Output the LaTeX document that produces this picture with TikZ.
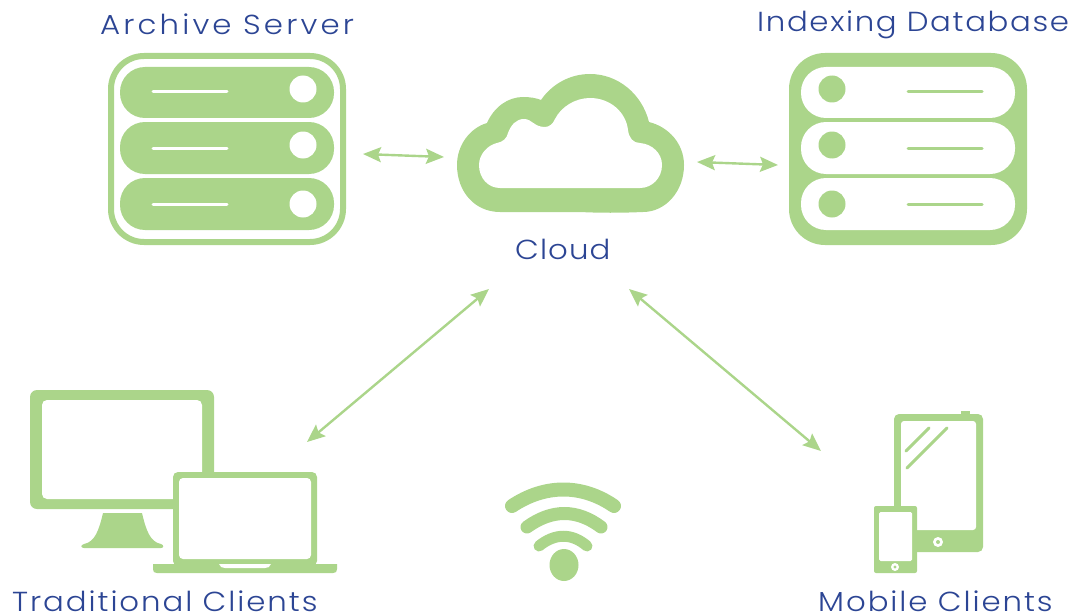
\documentclass[tikz,border=0pt]{standalone}
\usepackage{fontspec}
\setmainfont[LetterSpace=7,FakeStretch=1.12]{Poppins Light}
\usetikzlibrary{arrows.meta}
\definecolor{leaf}{HTML}{ABD58A}
\definecolor{ink}{HTML}{2C4594}
\tikzset{
  x=1pt,y=-1pt,
  lbl/.style={anchor=base west,inner sep=0pt,text=ink,font=\fontsize{27.5}{30}\selectfont},
  link/.style={draw=leaf,line width=2.4pt,{Stealth[length=18pt,width=15pt,inset=3pt]}-{Stealth[length=18pt,width=15pt,inset=3pt]}},
  wave/.style={draw=leaf,line cap=round}
}
\begin{document}
\begin{tikzpicture}
\useasboundingbox (0,0) rectangle (1075,615);
% Archive server
\draw[leaf,line width=6pt,rounded corners=33pt] (111,56) rectangle (343,242);
\foreach \a/\b/\c/\l in {67/118/89/92,122/174/145/148,178/230/204/204}{
  \fill[leaf,rounded corners=25pt] (120,\a) rectangle (334,\b);
  \fill[white] (303,\c) circle (13.5);
  \draw[white,line width=3pt,line cap=round] (153,\l) -- (227,\l);
}
% Indexing database
\fill[leaf,rounded corners=36pt] (789,53) rectangle (1027,245);
\foreach \a/\b/\c/\l in {67/118/89/92,122/174/145/148,178/230/204/204}{
  \fill[white,rounded corners=25pt] (801,\a) rectangle (1015,\b);
  \fill[leaf] (832,\c) circle (13.5);
  \draw[leaf,line width=3pt,line cap=round] (908,\l) -- (982,\l);
}
% Cloud
\fill[leaf] (500,212) .. controls (475,212) and (457,192) .. (457,165)
  .. controls (457,145) and (470,128) .. (487,123)
  .. controls (494,107) and (508,97) .. (523,97)
  .. controls (530,97) and (536,98) .. (541,100)
  .. controls (552,84) and (570,74) .. (590,74)
  .. controls (618,74) and (642,94) .. (649,122)
  .. controls (669,127) and (684,144) .. (684,165)
  .. controls (684,192) and (665,212) .. (643,212)
  .. controls (620,213) and (600,213) .. (580,212) -- cycle;
\fill[white] (500,188) .. controls (488,188) and (479,178) .. (479,165)
  .. controls (479,154) and (488,145) .. (497,143)
  .. controls (503,142) and (507,138) .. (508,133)
  .. controls (511,125) and (516,119) .. (524,119)
  .. controls (532,119) and (534,127) .. (545,127)
  .. controls (549,127) and (553,124) .. (555,119)
  .. controls (561,107) and (575,98) .. (590,98)
  .. controls (610,98) and (626,112) .. (628,130)
  .. controls (629,138) and (633,143) .. (640,143)
  .. controls (652,144) and (662,153) .. (662,165)
  .. controls (662,178) and (652,188) .. (640,188) -- cycle;
% Monitor
\fill[leaf,rounded corners=7pt] (30,390) rectangle (214,509);
\fill[white,rounded corners=5pt] (42,400) rectangle (202,499);
\fill[leaf] (103,513) -- (142,513) .. controls (146,530) and (150,542) .. (161,544)
  .. controls (164,545) and (164,548) .. (161,548) -- (84,548)
  .. controls (81,548) and (80,545) .. (84,544)
  .. controls (95,542) and (99,530) .. (103,513) -- cycle;
% Laptop
\fill[leaf,rounded corners=5pt] (173,472) rectangle (317,566);
\fill[white,rounded corners=4pt] (179,478) rectangle (311,559);
\fill[leaf] (153,564) -- (337,564) -- (337,569) .. controls (337,572) and (336,573) .. (333,573)
  -- (157,573) .. controls (154,573) and (153,572) .. (153,569) -- cycle;
\fill[white] (219,564) -- (271,564) .. controls (270,567) and (268,568) .. (265,568) -- (225,568) .. controls (222,568) and (220,567) .. (219,564) -- cycle;
% Tablet
\fill[leaf] (961,411) rectangle (970,416);
\fill[leaf,rounded corners=5pt] (894,414) rectangle (983,552);
\fill[white,rounded corners=3pt] (901,421) rectangle (976,530);
\draw[leaf,line width=3pt,line cap=round] (906,451) -- (929,428);
\draw[leaf,line width=3pt,line cap=round] (907,468) -- (947,428);
\fill[white] (938,542) circle (5);
\fill[leaf] (938,542) circle (2);
% Phone
\fill[leaf,rounded corners=2pt] (874,506) rectangle (917,573);
\fill[white,rounded corners=1.5pt] (879,512) rectangle (912,561);
\fill[white] (895,567) circle (4);
\fill[leaf] (895,567) circle (1.6);
% Wifi
\draw[wave,line width=14pt] (512,506) .. controls (545,484) and (582,484) .. (614,506);
\draw[wave,line width=13pt] (527,527) .. controls (552,509) and (577,509) .. (601,527);
\draw[wave,line width=11pt] (539,546) .. controls (555,533) and (572,533) .. (587,546);
\fill[leaf] (564,565) ellipse (14.5 and 16);
% Labels
\node[lbl] (archive) at (100,35) {\addfontfeature{LetterSpace=11.4}Archive Server};
\node[lbl] (index) at (757,32) {\addfontfeature{LetterSpace=6}Indexing Database};
\node[lbl] (cloud) at (515,259) {\addfontfeature{LetterSpace=4}Cloud};
\node[lbl] (trad) at (12,611) {Traditional Clients};
\node[lbl] (mobile) at (818,611) {Mobile Clients};
% Connector ends
\coordinate (sv) at (363,154);
\coordinate (cl) at (444,157);
\coordinate (cr) at (697,162);
\coordinate (db) at (778,165);
\coordinate (cbl) at (489,289);
\coordinate (tc) at (307,442);
\coordinate (cbr) at (629,289);
\coordinate (mc) at (821,451);
\draw[link] (sv) -- (cl);
\draw[link] (cr) -- (db);
\draw[link] (cbl) -- (tc);
\draw[link] (cbr) -- (mc);
\end{tikzpicture}
\end{document}
